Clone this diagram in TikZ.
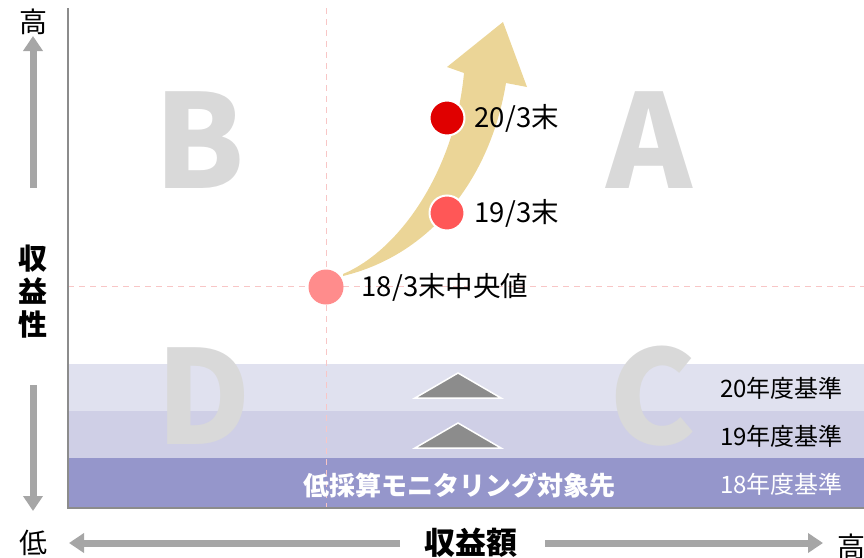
\documentclass[tikz,border=0pt]{standalone}
\usepackage{fontspec}
\setmainfont{Noto Sans CJK JP}
\usepackage{tikz}
\usetikzlibrary{
	arrows.meta,									% 箭头样式
	positioning,									% 节点的相对摆放
}
\definecolor{band20}{HTML}{E0E1EF}
\definecolor{band19}{HTML}{CFCFE6}
\definecolor{band18}{HTML}{9596CB}
\definecolor{guidepink}{HTML}{F8C6C6}
\definecolor{quadgray}{HTML}{D9D9D9}
\definecolor{axisgray}{HTML}{A6A6A6}
\definecolor{trendgold}{HTML}{EBD597}
\definecolor{dot20}{HTML}{E00000}
\definecolor{dot19}{HTML}{FF5757}
\definecolor{dot18}{HTML}{FF8C8C}

\begin{document}
\begin{tikzpicture}[x=1pt, y=-1pt,
	axisarrow/.style={draw=axisgray, line width=7pt, -{Triangle[length=15pt, width=19pt]}},
	guide/.style={draw=guidepink, line width=1pt, dash pattern=on 6pt off 5pt},
	quad/.style={text=quadgray, font=\fontsize{130}{130}\bfseries\selectfont},
	dot/.style={circle, minimum size=35pt, inner sep=0pt, draw=white, line width=2pt},
	lbl/.style={font=\fontsize{27.5}{27.5}\selectfont, inner sep=0pt},
	bandlbl/.style={font=\fontsize{24}{24}\selectfont, anchor=east, inner sep=0pt},
	axislbl/.style={font=\fontsize{28}{28}\selectfont},
	tri/.style={fill=black!45, draw=white, line width=1.5pt},
	]
	\useasboundingbox (0,0) rectangle (864,557);

	% 基準の帯
	\fill[band20] (68,364) rectangle (864,411);
	\fill[band19] (68,411) rectangle (864,458);
	\fill[band18] (68,458) rectangle (864,508);

	% 象限
	\node[quad] (qb) at (200,140) {B};
	\node[quad] (qa) at (649,140) {A};
	\node[quad] (qd) at (204,396) {D};
	\node[quad] (qc) at (653,396) {C};

	\draw[guide] (326,8) -- (326,508);
	\draw[guide] (68,286) -- (864,286);
	\draw[black!45, line width=1.5pt] (68,8) -- (68,508) -- (864,508);

	% 推移の矢印
	\fill[trendgold] (343,274) .. controls (400,250) and (455,170) .. (464,73)
		-- (447,67) -- (503,22) -- (527,87) -- (506,83)
		.. controls (490,180) and (430,255) .. (343,276) -- cycle;

	\node[dot, fill=dot20] (p20) at (447,118) {};
	\node[dot, fill=dot19] (p19) at (447,213) {};
	\node[dot, fill=dot18, draw=none] (p18) at (326,287) {};
	\node[lbl, right=9pt of p20] (l20) {20/3末};
	\node[lbl, right=9pt of p19] (l19) {19/3末};
	\node[lbl, right=17pt of p18] (l18) {18/3末中央値};

	\fill[tri] (458,373) -- (415,398) -- (501,398) -- cycle;
	\fill[tri] (458,423) -- (415,448) -- (501,448) -- cycle;

	\node[bandlbl] (b20) at (843,388) {20年度基準};
	\node[bandlbl] (b19) at (843,436) {19年度基準};
	\node[bandlbl, text=white] (b18) at (843,484) {18年度基準};
	\node[text=white, font=\fontsize{26}{26}\bfseries\selectfont] (watch) at (459,485) {低採算モニタリング対象先};

	% 軸
	\node[axislbl] (yhi) at (33,22) {高};
	\node[axislbl] (lo) at (33,543) {低};
	\node[axislbl] (xhi) at (851,547) {高};
	\node[font=\fontsize{29}{33}\bfseries\selectfont, align=center] (ylbl) at (33,292) {収\\益\\性};
	\node[font=\fontsize{31}{31}\bfseries\selectfont] (xlbl) at (471,543) {収益額};
	\draw[axisarrow] (33,188) -- (33,36);
	\draw[axisarrow] (33,385) -- (33,511);
	\draw[axisarrow] (400,543) -- (69,543);
	\draw[axisarrow] (545,543) -- (823,543);
\end{tikzpicture}
\end{document}
